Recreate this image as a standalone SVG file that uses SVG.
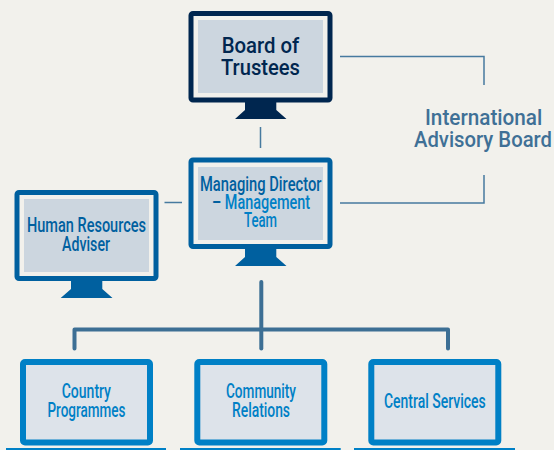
<svg xmlns="http://www.w3.org/2000/svg" width="554" height="450" viewBox="0 0 554 450">
<style>
text{font-family:"Roboto","Liberation Sans",sans-serif;text-anchor:start;font-weight:500}
.big{font-size:22px}
.mid{font-size:19.5px}
.navy{fill:#00264f}
.blue{fill:#00609f}
.light{fill:#0080c6}
.steel{fill:#3f7096}
.thin{fill:none;stroke:#477a9f;stroke-width:1.5}
.thick{fill:none;stroke:#3d6f94;stroke-width:4;stroke-linecap:round;stroke-linejoin:round}
.scr{fill:#ccd6df}
.scr2{fill:#dde3ea}
</style>
<rect width="554" height="450" fill="#f2f1ec"/>
<g id="connectors">
<path class="thin" d="M340 56.500H484V85"/>
<path class="thin" d="M340 203H484V175"/>
<path class="thin" d="M260.500 127V148"/>
<path class="thin" d="M164.500 202.500H182"/>
<path class="thick" d="M261.300 282V348.500"/>
<path class="thick" d="M74.500 348.500V329.500H448V348.500"/>
</g>
<g id="board">
<rect x="191" y="13.500" width="139" height="86.500" rx="2" fill="#f2f1ec" stroke="#00264f" stroke-width="5"/>
<rect class="scr" x="198" y="20" width="125" height="73"/>
<path class="navy" d="M245 101H276.300V110L286.500 119H235L245 110Z"/>
<text class="big navy" x="221.700" y="53" textLength="77.600" lengthAdjust="spacingAndGlyphs">Board of</text>
<text class="big navy" x="221" y="75" textLength="79" lengthAdjust="spacingAndGlyphs">Trustees</text>
</g>
<g id="managing-director">
<rect x="191" y="160" width="139" height="86.500" rx="2" fill="#f2f1ec" stroke="#00609f" stroke-width="5"/>
<rect class="scr" x="198" y="167" width="125" height="73"/>
<path class="blue" d="M245 248H276.300V257L286.500 266H235L245 257Z"/>
<text class="mid blue" x="200" y="190.700" textLength="121.500" lengthAdjust="spacingAndGlyphs">Managing Director</text>
<text class="mid" x="212" y="209.300" textLength="98" lengthAdjust="spacingAndGlyphs"><tspan class="blue">– </tspan><tspan class="light">Management</tspan></text>
<text class="mid light" x="244" y="227.300" textLength="33" lengthAdjust="spacingAndGlyphs">Team</text>
</g>
<g id="human-resources">
<rect x="17" y="192.500" width="139" height="86" rx="2" fill="#f2f1ec" stroke="#00609f" stroke-width="5"/>
<rect class="scr" x="24" y="199" width="125" height="73"/>
<path class="blue" d="M71 280H102.300V289L112.500 298H60.700L71 289Z"/>
<text class="mid blue" x="27" y="231.700" textLength="119" lengthAdjust="spacingAndGlyphs">Human Resources</text>
<text class="mid blue" x="62" y="250.700" textLength="48" lengthAdjust="spacingAndGlyphs">Adviser</text>
</g>
<g id="country-programmes">
<rect x="23" y="362" width="127" height="80.500" rx="2" class="scr2" stroke="#0080c6" stroke-width="6"/>
<rect x="6" y="448" width="160" height="2" fill="#0080c6"/>
<text class="mid light" x="61.700" y="397.700" textLength="49.300" lengthAdjust="spacingAndGlyphs">Country</text>
<text class="mid light" x="47.500" y="416.700" textLength="78" lengthAdjust="spacingAndGlyphs">Programmes</text>
</g>
<g id="community-relations">
<rect x="197.300" y="362" width="127" height="80.500" rx="2" class="scr2" stroke="#0080c6" stroke-width="6"/>
<rect x="180" y="448" width="160.700" height="2" fill="#0080c6"/>
<text class="mid light" x="226" y="397.700" textLength="70" lengthAdjust="spacingAndGlyphs">Community</text>
<text class="mid light" x="232" y="416.700" textLength="58" lengthAdjust="spacingAndGlyphs">Relations</text>
</g>
<g id="central-services">
<rect x="371.300" y="362" width="127" height="80.500" rx="2" class="scr2" stroke="#0080c6" stroke-width="6"/>
<rect x="354" y="448" width="161" height="2" fill="#0080c6"/>
<text class="mid light" x="384" y="407.700" textLength="101.700" lengthAdjust="spacingAndGlyphs">Central Services</text>
</g>
<g id="international-advisory-board">
<text class="big steel" x="425" y="125" textLength="117.300" lengthAdjust="spacingAndGlyphs">International</text>
<text class="big steel" transform="translate(414 146.700) scale(.9 1)" textLength="153.300" lengthAdjust="spacingAndGlyphs">Advisory Board</text>
</g>
</svg>
